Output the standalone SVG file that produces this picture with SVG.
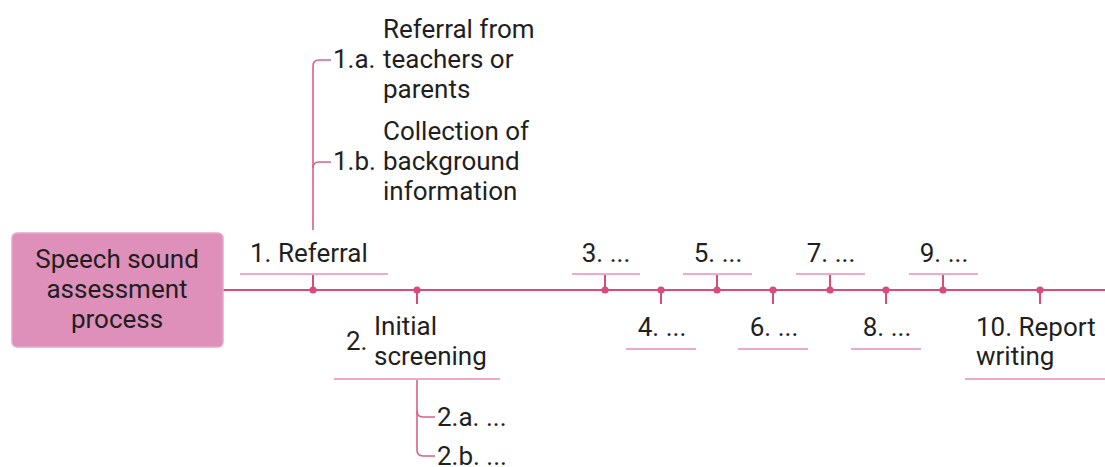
<svg xmlns="http://www.w3.org/2000/svg" width="1105" height="467" viewBox="0 0 1105 467">
  <style>
    text { font-family: Roboto, "Liberation Sans", sans-serif; font-size: 26px; fill: #1f1f1f; }
    .mid { text-anchor: middle; }
    .spine { stroke: #d94b7b; stroke-width: 2.2; fill: none; }
    .tick { stroke: #d94b7b; stroke-width: 2; fill: none; }
    .under { stroke: #f2a9c9; stroke-width: 2; fill: none; }
    .branch { stroke: #d9608b; stroke-width: 1.6; fill: none; }
    .dot { fill: #d94b7b; }
    .root { fill: #de8fba; stroke: #e8a7c9; stroke-width: 1.5; }
  </style>

  <!-- connectors: timeline spine, ticks, dots and sub-branches -->
  <g id="connectors">
    <line class="spine" x1="223" y1="290" x2="1105" y2="290"/>
    <!-- ticks from labels to the spine -->
    <line class="tick" x1="313" y1="274" x2="313" y2="290"/>
    <line class="tick" x1="417" y1="290" x2="417" y2="304"/>
    <line class="tick" x1="605" y1="274" x2="605" y2="290"/>
    <line class="tick" x1="661" y1="290" x2="661" y2="304"/>
    <line class="tick" x1="717" y1="274" x2="717" y2="290"/>
    <line class="tick" x1="773" y1="290" x2="773" y2="304"/>
    <line class="tick" x1="830" y1="274" x2="830" y2="290"/>
    <line class="tick" x1="886" y1="290" x2="886" y2="304"/>
    <line class="tick" x1="943" y1="274" x2="943" y2="290"/>
    <line class="tick" x1="1040" y1="290" x2="1040" y2="304"/>
    <!-- junction dots -->
    <circle class="dot" cx="313" cy="290" r="3.6"/>
    <circle class="dot" cx="417" cy="290" r="3.6"/>
    <circle class="dot" cx="605" cy="290" r="3.6"/>
    <circle class="dot" cx="661" cy="290" r="3.6"/>
    <circle class="dot" cx="717" cy="290" r="3.6"/>
    <circle class="dot" cx="773" cy="290" r="3.6"/>
    <circle class="dot" cx="830" cy="290" r="3.6"/>
    <circle class="dot" cx="886" cy="290" r="3.6"/>
    <circle class="dot" cx="943" cy="290" r="3.6"/>
    <circle class="dot" cx="1040" cy="290" r="3.6"/>
    <!-- sub-branches of step 1 -->
    <path class="branch" d="M313,230 V66 Q313,60 319,60 H331"/>
    <path class="branch" d="M313,168 Q313,162 319,162 H331"/>
    <!-- sub-branches of step 2 -->
    <path class="branch" d="M417,380 V450 Q417,456 423,456 H435"/>
    <path class="branch" d="M417,411 Q417,417 423,417 H435"/>
  </g>

  <g id="root">
    <rect class="root" x="12" y="233" width="211" height="114" rx="5"/>
    <text class="mid" x="117" y="268">Speech sound</text>
    <text class="mid" x="117" y="298">assessment</text>
    <text class="mid" x="117" y="328">process</text>
  </g>

  <g id="step1">
    <text x="250" y="262">1. Referral</text>
    <line class="under" x1="240" y1="274" x2="388" y2="274"/>
  </g>

  <g id="step1a">
    <text x="333" y="68">1.a.</text>
    <text x="383" y="38">Referral from</text>
    <text x="383" y="68">teachers or</text>
    <text x="383" y="98">parents</text>
  </g>

  <g id="step1b">
    <text x="333" y="170">1.b.</text>
    <text x="383" y="140">Collection of</text>
    <text x="383" y="170">background</text>
    <text x="383" y="200">information</text>
  </g>

  <g id="step2">
    <text x="346" y="350">2.</text>
    <text x="374" y="335">Initial</text>
    <text x="374" y="365">screening</text>
    <line class="under" x1="334" y1="379" x2="500" y2="379"/>
  </g>

  <g id="step2a">
    <text x="437" y="426">2.a. ...</text>
  </g>
  <g id="step2b">
    <text x="437" y="465">2.b. ...</text>
  </g>

  <g id="step3">
    <text class="mid" x="606" y="262">3. ...</text>
    <line class="under" x1="572" y1="274" x2="640" y2="274"/>
  </g>
  <g id="step4">
    <text class="mid" x="662" y="336">4. ...</text>
    <line class="under" x1="626" y1="349" x2="696" y2="349"/>
  </g>
  <g id="step5">
    <text class="mid" x="718" y="262">5. ...</text>
    <line class="under" x1="683" y1="274" x2="752" y2="274"/>
  </g>
  <g id="step6">
    <text class="mid" x="774" y="336">6. ...</text>
    <line class="under" x1="738" y1="349" x2="808" y2="349"/>
  </g>
  <g id="step7">
    <text class="mid" x="831" y="262">7. ...</text>
    <line class="under" x1="796" y1="274" x2="865" y2="274"/>
  </g>
  <g id="step8">
    <text class="mid" x="887" y="336">8. ...</text>
    <line class="under" x1="851" y1="349" x2="921" y2="349"/>
  </g>
  <g id="step9">
    <text class="mid" x="944" y="262">9. ...</text>
    <line class="under" x1="909" y1="274" x2="978" y2="274"/>
  </g>

  <g id="step10">
    <text x="976" y="336">10. Report</text>
    <text x="976" y="365">writing</text>
    <line class="under" x1="965" y1="379" x2="1105" y2="379"/>
  </g>
</svg>
